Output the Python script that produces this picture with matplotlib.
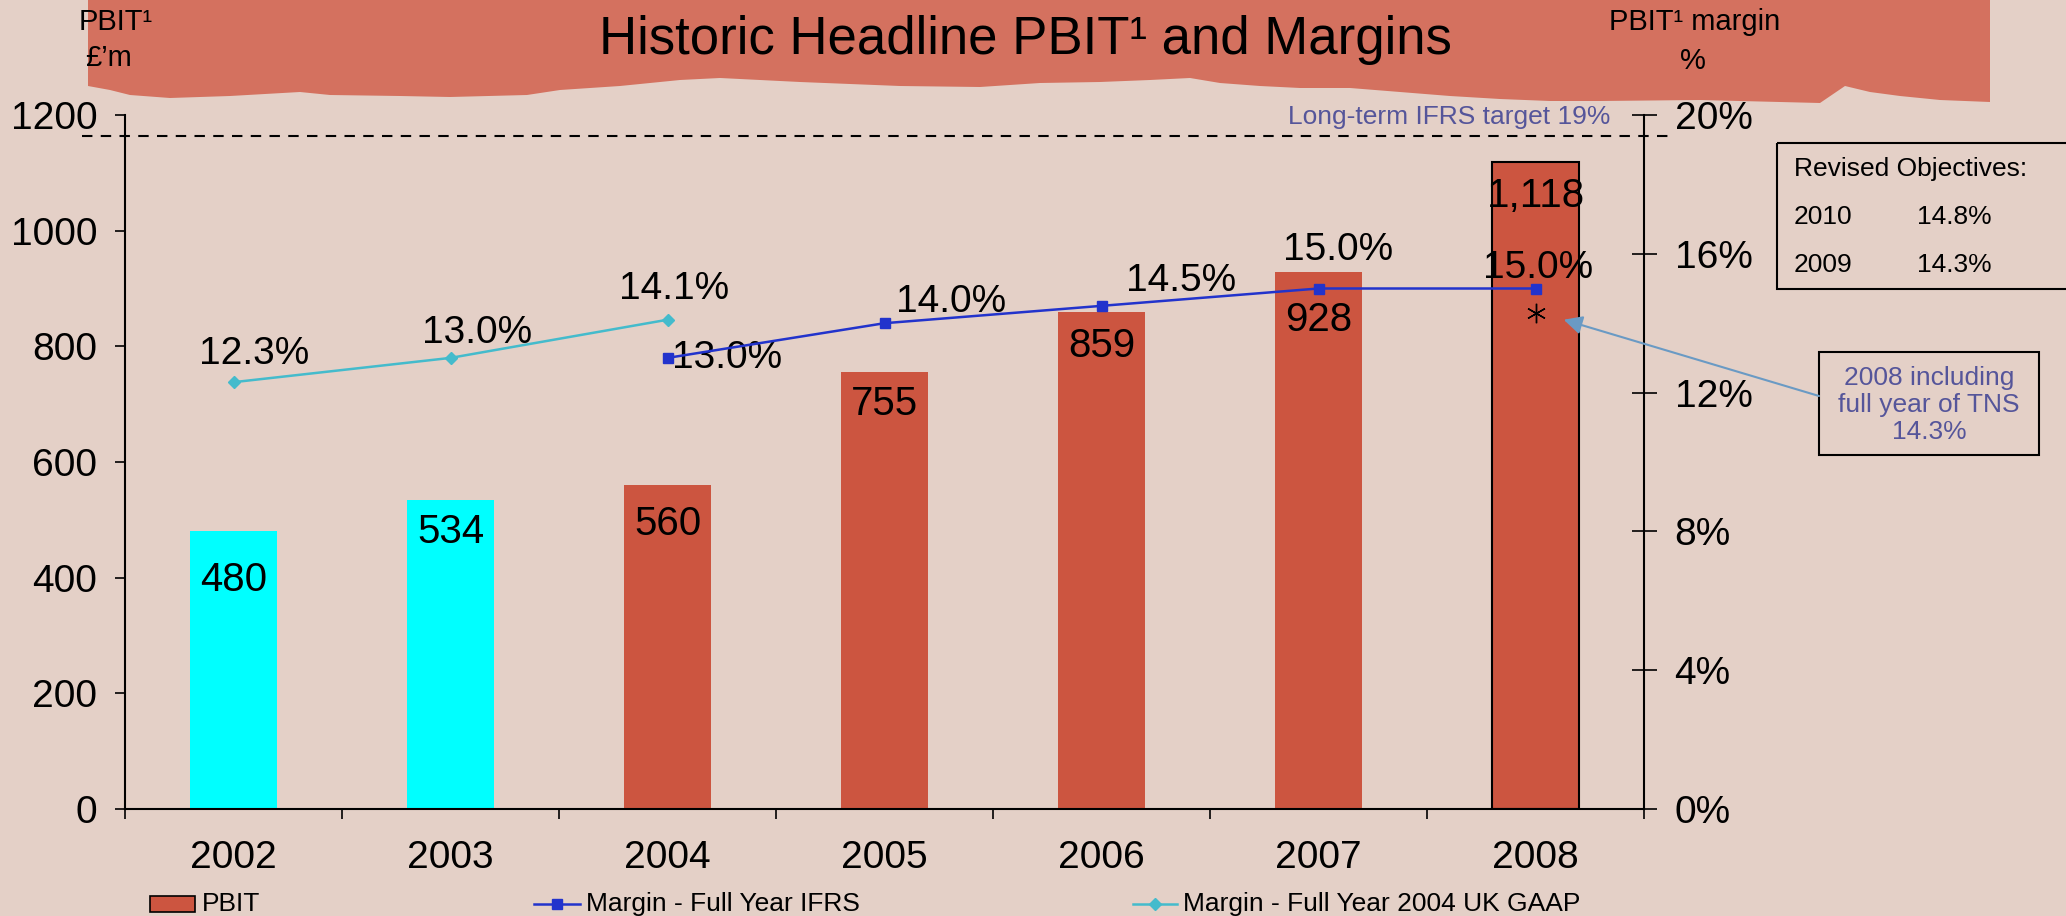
import numpy as np
import matplotlib
matplotlib.use("Agg")
import matplotlib.pyplot as plt
from matplotlib.patches import Rectangle, Polygon

plt.rcParams["font.family"] = ["Liberation Sans", "DejaVu Sans"]

# data
years = ["2002", "2003", "2004", "2005", "2006", "2007", "2008"]
pbit = [480, 534, 560, 755, 859, 928, 1118]
n_uk_gaap = 2  # first two years reported under UK GAAP

ifrs_years = ["2004", "2005", "2006", "2007", "2008"]
margin_ifrs = [13.0, 14.0, 14.5, 15.0, 15.0]

gaap_years = ["2002", "2003", "2004"]
margin_gaap = [12.3, 13.0, 14.1]

tns_2008 = 14.3
target_label = 19
target_drawn = 19.4  # the slide draws the dashed line a bit above 19%

objectives = [("2010", "14.8%"), ("2009", "14.3%")]

# label nudges (points)
bar_label_dy = [-35, -23, -28, -23, -24, -34, -24]
gaap_label_off = [(15, 20), (19, 18), (5, 22)]
ifrs_label_off = [(43, 0), (48, 15), (57, 18), (14, 28), (2, 15)]

bg = "#E4D0C7"
banner = "#D4715F"
bar_red = "#CC5540"
cyan = "#00FFFF"
ifrs_blue = "#2233CC"
gaap_teal = "#44BBCC"
note_blue = "#55559A"

W, H = 2066, 916
fig = plt.figure(figsize=(W / 100, H / 100), dpi=100, facecolor=bg)

# overlay in pixel coordinates for the slide decoration
ov = fig.add_axes([0, 0, 1, 1], zorder=0)
ov.set_xlim(0, W)
ov.set_ylim(H, 0)
ov.axis("off")

edge_x = [88, 110, 130, 170, 230, 300, 330, 400, 450, 527, 560, 620, 680, 720, 760,
          800, 850, 900, 980, 1040, 1100, 1150, 1190, 1220, 1260, 1300, 1350, 1400,
          1450, 1500, 1550, 1600, 1700, 1780, 1820, 1845, 1870, 1900, 1940, 1990]
edge_y = [86, 90, 95, 98, 96, 92, 95, 96, 97, 95, 90, 86, 80, 78, 80,
          82, 84, 86, 87, 83, 82, 80, 78, 83, 86, 88, 88, 92,
          96, 99, 101, 101, 100, 102, 103, 86, 92, 96, 100, 102]
pts = [(88, 0)] + list(zip(edge_x, edge_y)) + [(1990, 0)]
ov.add_patch(Polygon(pts, closed=True, facecolor=banner, edgecolor="none"))

ov.text(1025, 40, "Historic Headline PBIT\u00b9 and Margins", ha="center", va="center",
        fontsize=38)
ov.text(116, 22, "PBIT\u00b9", ha="center", va="center", fontsize=21)
ov.text(109, 58, "\u00a3\u2019m", ha="center", va="center", fontsize=21)
ov.text(1695, 22, "PBIT\u00b9 margin", ha="center", va="center", fontsize=21)
ov.text(1693, 61, "%", ha="center", va="center", fontsize=21)
ov.text(1610, 117, f"Long-term IFRS target {target_label}%", ha="right", va="center",
        color=note_blue, fontsize=19)

# revised objectives box
ov.add_patch(Rectangle((1777, 143), 300, 146, facecolor="none", edgecolor="black", lw=1.5))
ov.text(1794, 169, "Revised Objectives:", ha="left", va="center", fontsize=19)
for i, (yr, val) in enumerate(objectives):
    ov.text(1794, 217 + 48 * i, yr, ha="left", va="center", fontsize=19)
    ov.text(1917, 217 + 48 * i, val, ha="left", va="center", fontsize=19)

# TNS note box
ov.add_patch(Rectangle((1819, 352), 220, 103, facecolor="none", edgecolor="black", lw=1.5))
ov.text(1929, 405, f"2008 including\nfull year of TNS\n{tns_2008}%", ha="center",
        va="center", color=note_blue, fontsize=19, linespacing=1.15)

# legend
ov.add_patch(Rectangle((150, 896), 45, 16, facecolor=bar_red, edgecolor="black", lw=1.2))
ov.text(202, 904, "PBIT", ha="left", va="center", fontsize=19)
ov.plot([534, 580], [904, 904], color=ifrs_blue, lw=1.8)
ov.plot([557], [904], marker="s", ms=7, color=ifrs_blue)
ov.text(586, 904, "Margin - Full Year IFRS", ha="left", va="center", fontsize=19)
ov.plot([1133, 1177], [904, 904], color=gaap_teal, lw=1.8)
ov.plot([1155], [904], marker="D", ms=6, color=gaap_teal)
ov.text(1183, 904, "Margin - Full Year 2004 UK GAAP", ha="left", va="center", fontsize=19)

# main chart
ax = fig.add_axes([125 / W, 1 - 809 / H, (1644 - 125) / W, (809 - 115) / H], zorder=1)
ax.set_facecolor("none")
x = np.arange(len(years))
colors = [cyan] * n_uk_gaap + [bar_red] * (len(years) - n_uk_gaap)
edges = [(0, 0, 0, 0)] * (len(years) - 1) + ["black"]
ax.bar(x, pbit, width=0.4, color=colors, edgecolor=edges, linewidth=1.5, zorder=2)
for xi, v, dy in zip(x, pbit, bar_label_dy):
    ax.annotate(f"{v:,}", (xi, v), xytext=(0, dy), textcoords="offset points",
                ha="center", va="center", fontsize=29, zorder=3)

ax.set_xlim(-0.5, len(years) - 0.5)
ax.set_ylim(0, 1200)
ax.set_yticks(range(0, 1201, 200))
ax.set_xticks(x)
ax.set_xticklabels(years)
ax.set_xticks(np.arange(-0.5, len(years), 1), minor=True)
ax.tick_params(axis="x", which="major", length=0, pad=22, labelsize=28)
ax.tick_params(axis="x", which="minor", length=7, width=1.2, direction="out")
ax.tick_params(axis="y", length=7, width=1.2, direction="out", pad=13, labelsize=28)
for s in ["top", "right"]:
    ax.spines[s].set_visible(False)
for s in ["left", "bottom"]:
    ax.spines[s].set_linewidth(1.5)

ax2 = ax.twinx()
ax2.set_ylim(0, 20)
ax2.set_yticks(range(0, 21, 4))
ax2.set_yticklabels([f"{t}%" for t in range(0, 21, 4)])
ax2.tick_params(axis="y", length=18, width=1.2, direction="inout", pad=13, labelsize=28)
for s in ["top", "left", "bottom"]:
    ax2.spines[s].set_visible(False)
ax2.spines["right"].set_linewidth(1.5)

xg = [years.index(y) for y in gaap_years]
xi_ = [years.index(y) for y in ifrs_years]
ax2.plot(xg, margin_gaap, color=gaap_teal, lw=1.8, marker="D", ms=6, zorder=4)
ax2.plot(xi_, margin_ifrs, color=ifrs_blue, lw=1.8, marker="s", ms=7, zorder=4)
for xx, v, (dx, dy) in zip(xg, margin_gaap, gaap_label_off):
    ax2.annotate(f"{v:.1f}%", (xx, v), xytext=(dx, dy), textcoords="offset points",
                 ha="center", va="center", fontsize=28)
for xx, v, (dx, dy) in zip(xi_, margin_ifrs, ifrs_label_off):
    ax2.annotate(f"{v:.1f}%", (xx, v), xytext=(dx, dy), textcoords="offset points",
                 ha="center", va="center", fontsize=28)

# 2008 incl. TNS marker and callout
x08 = years.index("2008")
ax2.plot([x08], [tns_2008], marker=(6, 2, 0), ms=14, color="black", mew=1.0, zorder=5)
ax2.annotate("", xy=(x08 + 0.13, tns_2008 - 0.2), xycoords="data",
             xytext=(1819 / W, 1 - 396 / H), textcoords="figure fraction",
             arrowprops=dict(arrowstyle="-|>", color="#6A9AC4", lw=1.5,
                             mutation_scale=28, shrinkA=0, shrinkB=0),
             annotation_clip=False)

# long-term target
ax2.axhline(target_drawn, xmin=-0.028, xmax=1.017, color="black", lw=1.5,
            ls=(0, (5, 4)), clip_on=False)

fig.savefig("out.png", dpi=100, facecolor=bg)
